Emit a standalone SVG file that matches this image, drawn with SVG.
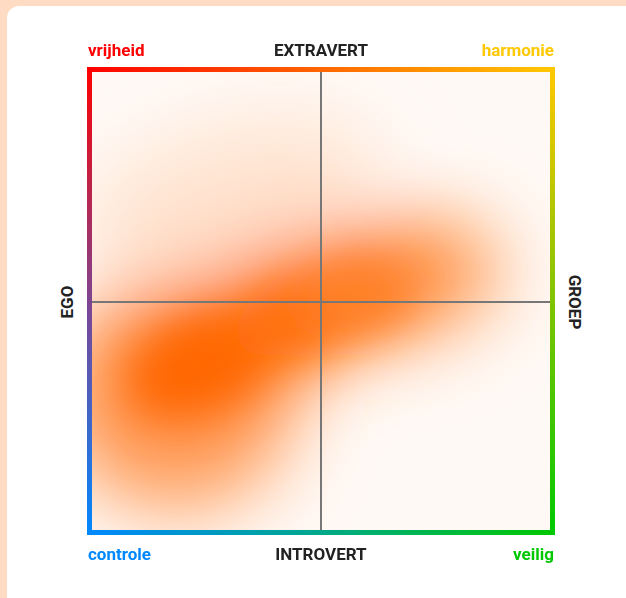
<svg xmlns="http://www.w3.org/2000/svg" width="626" height="598" viewBox="0 0 626 598">
<defs>
<style>
.lbl{font-family:Roboto,"Liberation Sans",sans-serif;font-weight:700;font-size:17px}
.axis{fill:#222}
.cross{stroke:#777;stroke-width:2}
</style>
<linearGradient id="gTop" x1="87" y1="0" x2="555" y2="0" gradientUnits="userSpaceOnUse"><stop offset="0" stop-color="#FF0000"/><stop offset="0.5" stop-color="#FF6600"/><stop offset="1" stop-color="#FFC800"/></linearGradient>
<linearGradient id="gBot" x1="87" y1="0" x2="555" y2="0" gradientUnits="userSpaceOnUse"><stop offset="0" stop-color="#0088FF"/><stop offset="0.5" stop-color="#00A88A"/><stop offset="1" stop-color="#00C800"/></linearGradient>
<linearGradient id="gLeft" x1="0" y1="67" x2="0" y2="535" gradientUnits="userSpaceOnUse"><stop offset="0" stop-color="#FF0000"/><stop offset="0.5" stop-color="#7F4490"/><stop offset="1" stop-color="#0088FF"/></linearGradient>
<linearGradient id="gRight" x1="0" y1="67" x2="0" y2="535" gradientUnits="userSpaceOnUse"><stop offset="0" stop-color="#FFC800"/><stop offset="0.5" stop-color="#80C400"/><stop offset="1" stop-color="#00C800"/></linearGradient>
<filter id="blur" x="-50%" y="-50%" width="200%" height="200%"><feGaussianBlur stdDeviation="38"/></filter>
<filter id="blur2" x="-50%" y="-50%" width="200%" height="200%"><feGaussianBlur stdDeviation="22"/></filter>
<clipPath id="inner"><rect x="92" y="72" width="459" height="459"/></clipPath>
</defs>
<rect width="626" height="598" fill="#FFDBC3"/>
<rect x="7" y="6" width="640" height="620" rx="12" fill="#FFFFFF"/>
<g id="heatmap" clip-path="url(#inner)">
<rect x="92" y="72" width="459" height="459" fill="#FFF9F5"/>
<g filter="url(#blur)">
<ellipse cx="230" cy="200" rx="150" ry="70" fill="#FFE2CE" transform="rotate(-15 230 200)"/>
<ellipse cx="175" cy="395" rx="120" ry="115" fill="#FF9A55"/>
<ellipse cx="395" cy="280" rx="105" ry="60" fill="#FF9448" transform="rotate(-10 395 280)"/>
<ellipse cx="270" cy="320" rx="160" ry="65" fill="#FF7A1E" transform="rotate(-22 270 320)"/>
</g>
<g filter="url(#blur2)">
<ellipse cx="200" cy="365" rx="75" ry="45" fill="#FF6600" transform="rotate(-25 200 365)"/>
<ellipse cx="300" cy="315" rx="70" ry="35" fill="#FF7010" transform="rotate(-20 300 315)"/>
<ellipse cx="355" cy="295" rx="55" ry="35" fill="#FF8025"/>
</g>
</g>
<g id="connectors">
<line class="cross" x1="321" y1="72" x2="321" y2="531"/>
<line class="cross" x1="92" y1="302" x2="551" y2="302"/>
</g>
<g id="frame">
<rect x="87" y="67" width="468" height="5" fill="url(#gTop)"/>
<rect x="87" y="530" width="468" height="5" fill="url(#gBot)"/>
<rect x="87" y="67" width="5" height="468" fill="url(#gLeft)"/>
<rect x="550" y="67" width="5" height="468" fill="url(#gRight)"/>
</g>
<g id="label-vrijheid"><text class="lbl" x="88" y="56" fill="#FF0000">vrijheid</text></g>
<g id="label-extravert"><text class="lbl axis" x="321" y="56" text-anchor="middle">EXTRAVERT</text></g>
<g id="label-harmonie"><text class="lbl" x="554" y="56" text-anchor="end" fill="#FFC800">harmonie</text></g>
<g id="label-controle"><text class="lbl" x="88" y="560" fill="#0088FF">controle</text></g>
<g id="label-introvert"><text class="lbl axis" x="321" y="560" text-anchor="middle">INTROVERT</text></g>
<g id="label-veilig"><text class="lbl" x="554" y="560" text-anchor="end" fill="#00C800">veilig</text></g>
<g id="label-ego"><text class="lbl axis" transform="translate(73 302) rotate(-90)" text-anchor="middle">EGO</text></g>
<g id="label-groep"><text class="lbl axis" transform="translate(569 302) rotate(90)" text-anchor="middle">GROEP</text></g>
</svg>
